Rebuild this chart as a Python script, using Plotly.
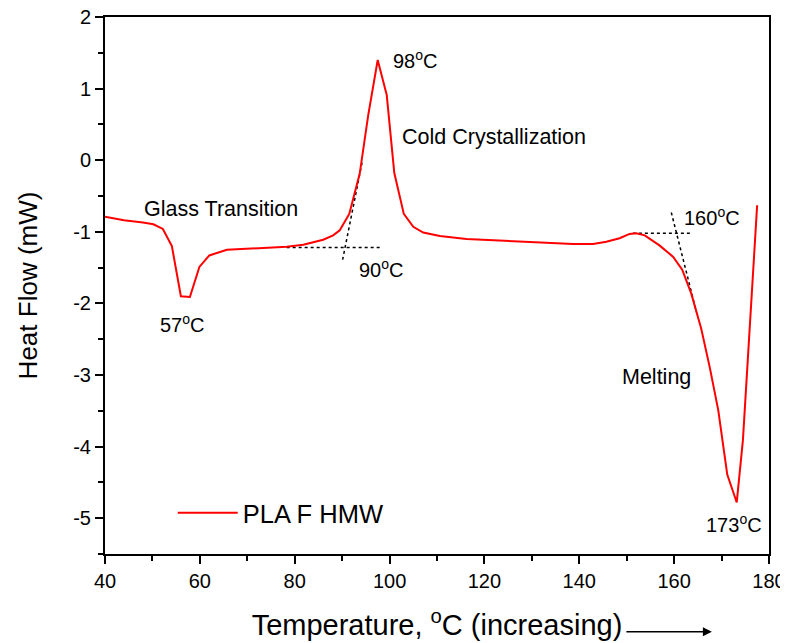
import plotly.graph_objects as go

# DSC curve, PLA F HMW
temperature = [40, 44, 48, 50.2, 52.2, 54.1, 56.0, 57.9, 59.9, 62.0, 65.7, 71.3, 78.3,
               81.8, 86.0, 88.1, 89.5, 91.5, 93.7, 95.5, 97.5, 99.4, 101.0, 103.0,
               105.0, 107.1, 110.6, 116.2, 123.2, 130.3, 138.7, 142.9, 145.7, 148.5,
               150.6, 152.0, 153.8, 156.9, 159.8, 161.7, 163.6, 165.7, 167.5, 169.3,
               171.2, 173.2, 174.5, 175.9, 177.5]
heat_flow = [-0.79, -0.84, -0.87, -0.895, -0.96, -1.20, -1.90, -1.91, -1.49, -1.33,
             -1.25, -1.235, -1.21, -1.18, -1.11, -1.05, -0.98, -0.75, -0.19, 0.63,
             1.40, 0.91, -0.18, -0.75, -0.93, -1.01, -1.06, -1.10, -1.12, -1.15,
             -1.17, -1.17, -1.14, -1.09, -1.03, -1.02, -1.05, -1.19, -1.35, -1.53,
             -1.86, -2.35, -2.89, -3.49, -4.39, -4.78, -3.91, -2.38, -0.63]

# Tangent construction lines (onset determination)
tan1_h_x = [78.3, 98.0]
tan1_h_y = [-1.22, -1.22]
tan1_s_x = [90.1, 94.3]
tan1_s_y = [-1.39, 0.0]
tan2_h_x = [151.3, 163.8]
tan2_h_y = [-1.02, -1.02]
tan2_s_x = [159.4, 164.7]
tan2_s_y = [-0.73, -2.12]

# Text labels
region_text = ["Glass Transition", "Cold Crystallization", "Melting"]
region_x = [64.5, 122.0, 156.3]
region_y = [-0.68, 0.32, -3.03]

temp_text = ["57<sup>o</sup>C", "90<sup>o</sup>C", "98<sup>o</sup>C",
             "160<sup>o</sup>C", "173<sup>o</sup>C"]
temp_x = [56.3, 98.2, 105.5, 168.0, 172.6]
temp_y = [-2.28, -1.51, 1.40, -0.79, -5.07]

x_ticks = [40, 60, 80, 100, 120, 140, 160, 180]
x_ticklabels = ["40", "60", "80", "100", "120", "140", "160", "180"]
y_ticks = [2, 1, 0, -1, -2, -3, -4, -5]
y_ticklabels = ["2", "1", "0", "-1", "-2", "-3", "-4", "-5"]

FONT = "Liberation Sans, Arial, sans-serif"

fig = go.Figure()

for tx, ty in [(tan1_h_x, tan1_h_y), (tan1_s_x, tan1_s_y),
               (tan2_h_x, tan2_h_y), (tan2_s_x, tan2_s_y)]:
    fig.add_trace(go.Scatter(x=tx, y=ty, mode="lines", showlegend=False,
                             line=dict(color="black", width=1.5, dash="dot"),
                             hoverinfo="skip"))

fig.add_trace(go.Scatter(x=temperature, y=heat_flow, mode="lines", name="PLA F HMW",
                         line=dict(color="#ff0000", width=2)))

for t, x, y in zip(region_text, region_x, region_y):
    fig.add_annotation(x=x, y=y, text=t, showarrow=False,
                       font=dict(family=FONT, size=21.5, color="black"),
                       xanchor="center", yanchor="middle")
for t, x, y in zip(temp_text, temp_x, temp_y):
    fig.add_annotation(x=x, y=y, text=t, showarrow=False,
                       font=dict(family=FONT, size=20, color="black"),
                       xanchor="center", yanchor="middle")

# arrow following x-axis title
fig.add_annotation(x=0.914, y=-0.145, xref="paper", yref="paper",
                   ax=-87, ay=0, axref="pixel", ayref="pixel", text="",
                   showarrow=True, arrowhead=2, arrowsize=1.2, arrowwidth=1.5,
                   arrowcolor="black")

axis_common = dict(showline=True, linecolor="black", linewidth=2, mirror=True,
                   ticks="outside", ticklen=8, tickwidth=2, tickcolor="black",
                   showgrid=False, zeroline=False, automargin=False,
                   ticklabeloverflow="allow",
                   tickfont=dict(family=FONT, size=20, color="black"))

fig.update_xaxes(range=[40, 180], tickvals=x_ticks, ticktext=x_ticklabels,
                 minor=dict(dtick=10, tick0=40, ticks="outside", ticklen=5,
                            tickwidth=2, tickcolor="black", showgrid=False),
                 title=dict(text="Temperature, <sup>o</sup>C (increasing)",
                            font=dict(family=FONT, size=29, color="black"),
                            standoff=24),
                 **axis_common)
fig.update_yaxes(range=[-5.5, 2], tickvals=y_ticks, ticktext=y_ticklabels,
                 minor=dict(dtick=0.5, tick0=0, ticks="outside", ticklen=5,
                            tickwidth=2, tickcolor="black", showgrid=False),
                 title=dict(text="Heat Flow (mW)",
                            font=dict(family=FONT, size=26, color="black"),
                            standoff=28),
                 **axis_common)

fig.update_layout(
    width=780, height=635,
    margin=dict(l=97, r=19, t=9, b=89),
    paper_bgcolor="white", plot_bgcolor="white",
    font=dict(family=FONT, color="black"),
    showlegend=True,
    legend=dict(x=0.102, y=0.076, xanchor="left", yanchor="middle",
                bgcolor="rgba(0,0,0,0)", itemwidth=60,
                font=dict(family=FONT, size=25.5, color="black")),
)

fig.write_html("out.html")
